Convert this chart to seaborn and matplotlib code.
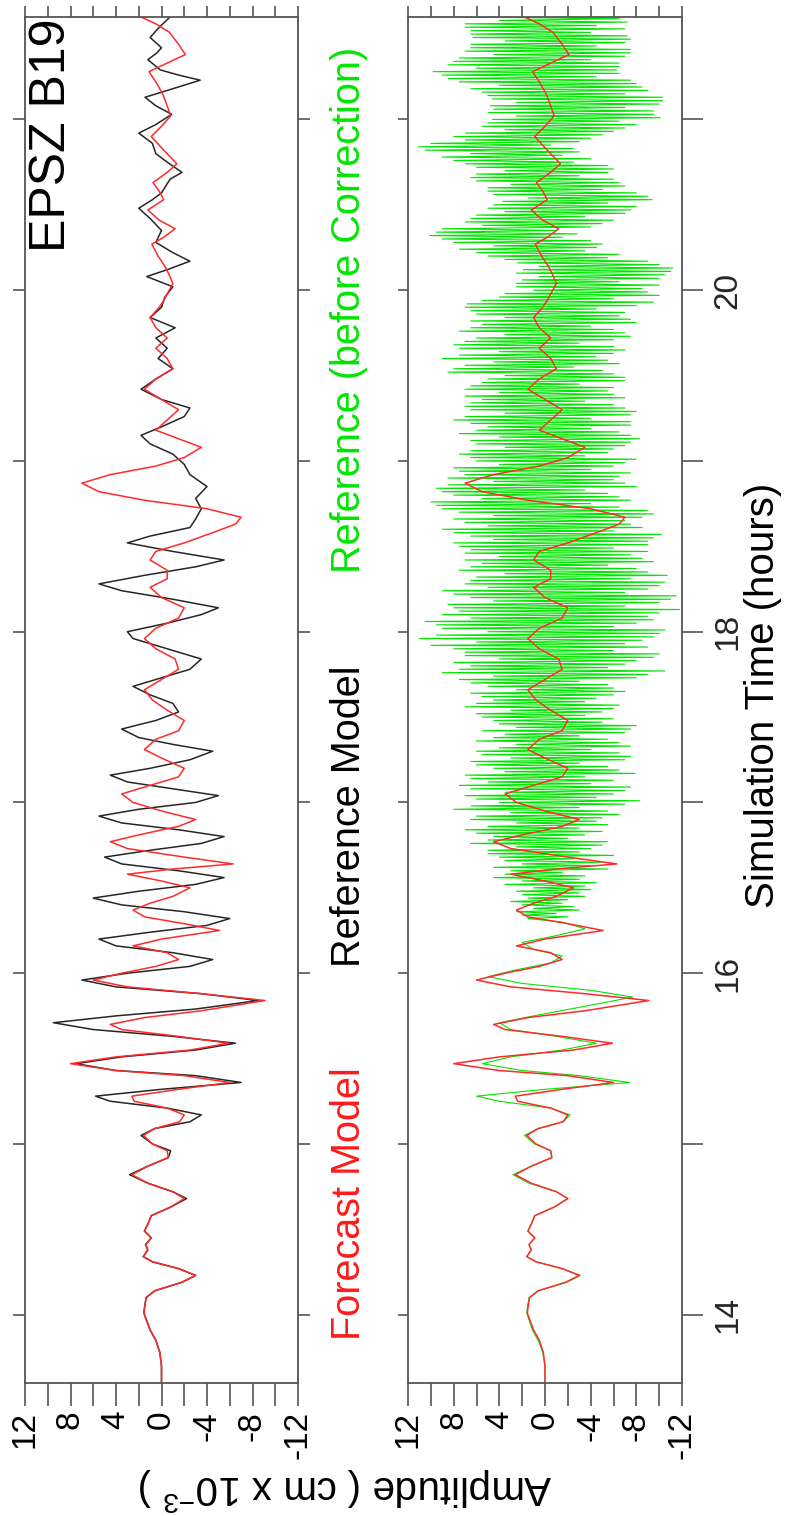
import numpy as np
import matplotlib
matplotlib.use('Agg')
import matplotlib.pyplot as plt
import seaborn as sns
import pandas as pd

# ---------------- data (time in hours, amplitude in cm x 1e-3) ----------------
# Forecast model (red)
fc_time = [13.60, 13.70, 13.78, 13.85, 13.91, 14.01, 14.06, 14.10, 14.14, 14.19, 14.23, 14.27,
           14.31, 14.34, 14.38, 14.41, 14.45, 14.49, 14.53, 14.58, 14.63, 14.68, 14.72, 14.77,
           14.82, 14.87, 14.92, 14.96, 15.00, 15.05, 15.09, 15.13, 15.17, 15.21, 15.25, 15.28,
           15.32, 15.36, 15.40, 15.43, 15.47, 15.51, 15.55, 15.59, 15.63, 15.67, 15.70, 15.74,
           15.78, 15.84, 15.88, 15.92, 15.96, 16.00, 16.04, 16.08, 16.12, 16.16, 16.20, 16.25,
           16.29, 16.33, 16.37, 16.41, 16.45, 16.50, 16.54, 16.58, 16.61, 16.64, 16.68, 16.73,
           16.77, 16.81, 16.86, 16.90, 16.95, 17.00, 17.05, 17.10, 17.15, 17.20, 17.26, 17.31,
           17.37, 17.42, 17.48, 17.54, 17.60, 17.66, 17.72, 17.78, 17.84, 17.90, 17.96, 18.02,
           18.08, 18.14, 18.20, 18.26, 18.31, 18.36, 18.42, 18.47, 18.52, 18.58, 18.63, 18.67,
           18.72, 18.77, 18.82, 18.87, 18.92, 18.97, 19.02, 19.08, 19.13, 19.18, 19.24, 19.30,
           19.36, 19.42, 19.48, 19.54, 19.60, 19.66, 19.72, 19.78, 19.84, 19.90, 19.94, 20.04,
           20.10, 20.14, 20.20, 20.27, 20.31, 20.36, 20.41, 20.47, 20.53, 20.58, 20.63, 20.69,
           20.74, 20.82, 20.90, 20.96, 21.02, 21.08, 21.15, 21.22, 21.28, 21.33, 21.38, 21.44,
           21.51, 21.56, 21.60]
fc_amp = [0.0, 0.0, 0.15, 0.5, 1.0, 1.55, 1.45, 1.35, 0.6, -1.8, -3.0, -1.5,
          0.8, 1.6, 1.2, 1.4, 0.9, 1.5, 1.2, 0.9, -0.8, -2.0, -1.0, 1.2,
          2.6, 1.2, -0.6, -0.5, 0.8, 1.6, 0.6, -1.6, -2.0, -0.5, 2.4, 2.6,
          -1.5, -6.0, -2.0, 4.0, 8.0, 4.0, -2.5, -5.9, -1.5, 3.5, 4.5, 1.5,
          -3.5, -9.1, -3.5, 3.0, 6.0, 3.5, 0.5, -1.5, -0.5, 2.5, 0.0, -5.1,
          -2.0, 1.5, 2.5, 1.0, -1.0, -2.5, 0.0, 3.0, -1.0, -6.3, -2.0, 3.0,
          4.5, 2.0, -1.5, -3.0, 0.0, 2.5, 3.5, 1.0, -1.5, -2.0, 0.0, 1.5,
          0.5, -1.5, -2.0, -0.5, 0.8, 1.5, 0.0, -1.5, -1.2, 0.5, 1.5, 0.5,
          -1.5, -2.0, 0.0, 1.0, -0.5, -0.5, 1.0, 0.5, -2.0, -4.5, -6.5, -7.0,
          -4.0, 1.5, 5.5, 7.0, 4.5, 0.5, -2.0, -3.5, -1.5, 0.5, -0.5, -1.5,
          0.0, 1.5, 0.5, -1.0, -0.5, 0.5, -0.5, 0.5, 1.0, 0.2, -0.2, -1.0,
          -0.6, -0.3, 0.3, 0.85, -0.2, -1.2, 0.2, 1.2, -0.2, 0.2, 0.75, -0.5,
          -1.35, -0.2, 0.9, 0.0, -0.8, -0.5, -0.1, 0.5, 1.1, -0.5, -2.1, -1.5,
          -0.7, 0.5, 1.8]

# Reference model (black)
ref_time = [13.60, 13.70, 13.78, 13.85, 13.91, 14.01, 14.06, 14.10, 14.14, 14.19, 14.23, 14.27,
            14.31, 14.34, 14.38, 14.41, 14.45, 14.49, 14.53, 14.58, 14.63, 14.68, 14.72, 14.77,
            14.82, 14.87, 14.92, 14.96, 15.00, 15.05, 15.09, 15.13, 15.17, 15.21, 15.25, 15.28,
            15.32, 15.36, 15.40, 15.43, 15.47, 15.51, 15.55, 15.59, 15.63, 15.67, 15.71, 15.75,
            15.79, 15.84, 15.88, 15.92, 15.96, 16.00, 16.04, 16.08, 16.12, 16.16, 16.20, 16.24,
            16.28, 16.32, 16.36, 16.40, 16.44, 16.48, 16.52, 16.56, 16.60, 16.64, 16.68, 16.72,
            16.76, 16.80, 16.84, 16.88, 16.92, 16.96, 17.00, 17.04, 17.08, 17.12, 17.16, 17.20,
            17.25, 17.30, 17.34, 17.38, 17.43, 17.48, 17.53, 17.58, 17.63, 17.68, 17.73, 17.78,
            17.84, 17.90, 17.96, 18.00, 18.05, 18.10, 18.14, 18.19, 18.24, 18.28, 18.33, 18.38,
            18.42, 18.47, 18.52, 18.56, 18.61, 18.66, 18.72, 18.78, 18.85, 18.92, 18.98, 19.04,
            19.10, 19.15, 19.20, 19.26, 19.31, 19.36, 19.42, 19.48, 19.54, 19.60, 19.66, 19.72,
            19.78, 19.84, 19.90, 19.96, 20.02, 20.08, 20.12, 20.17, 20.22, 20.28, 20.35, 20.42,
            20.48, 20.53, 20.57, 20.65, 20.69, 20.75, 20.80, 20.86, 20.92, 20.97, 21.03, 21.08,
            21.13, 21.18, 21.23, 21.26, 21.29, 21.35, 21.39, 21.42, 21.48, 21.54, 21.60]
ref_amp = [0.0, 0.0, 0.15, 0.5, 1.0, 1.55, 1.45, 1.35, 0.6, -1.8, -3.0, -1.5,
           0.8, 1.6, 1.2, 1.4, 0.9, 1.5, 1.2, 0.9, -0.8, -2.2, -1.0, 1.2,
           2.8, 1.2, -0.6, -0.8, 0.8, 1.8, 0.6, -2.5, -3.5, -0.5, 4.5, 5.8,
           0.0, -7.0, -3.0, 4.0, 7.5, 3.5, -3.0, -6.5, -1.0, 6.0, 9.5, 4.0,
           -3.0, -8.5, -3.5, 4.0, 7.0, 3.0, -2.5, -4.5, -1.0, 4.0, 5.5, 1.0,
           -4.0, -6.0, -2.0, 3.5, 6.0, 2.0, -3.0, -5.5, -1.5, 3.5, 5.0, 1.0,
           -3.5, -5.5, -1.5, 3.5, 5.5, 2.0, -3.0, -5.0, -1.0, 3.0, 4.5, 1.0,
           -2.5, -4.5, -1.0, 2.0, 3.5, 0.5, -1.5, -1.0, 1.0, 2.5, 0.0, -2.5,
           -3.5, -0.5, 2.5, 3.0, -0.5, -3.5, -5.0, -1.0, 3.5, 5.5, 1.5, -3.0,
           -5.5, -1.0, 3.0, 1.0, -2.5, -3.0, -3.5, -3.0, -4.0, -2.5, -2.0, -1.0,
           1.0, 1.8, 0.0, -2.0, -2.5, 0.0, 1.8, 0.5, -1.0, 0.3, -0.5, 0.5,
           -1.2, 1.0, 0.0, -0.3, -1.0, 1.3, -0.5, -2.5, -1.0, 0.5, 0.0, 1.0,
           2.0, 0.8, 0.0, -0.75, -1.8, -0.5, 0.5, 0.8, 2.0, 0.5, -0.9, 0.5,
           1.45, -1.0, -3.4, -1.5, 0.1, 1.2, 0.4, 0.0, 1.0, 0.2, -0.75]

# Reference before correction (green): smooth early part
bc_time = [13.60, 13.70, 13.78, 13.85, 13.91, 14.01, 14.06, 14.10, 14.14, 14.19, 14.23, 14.27,
           14.31, 14.34, 14.38, 14.41, 14.45, 14.49, 14.53, 14.58, 14.63, 14.68, 14.72, 14.77,
           14.82, 14.87, 14.92, 14.96, 15.00, 15.05, 15.09, 15.13, 15.17, 15.21, 15.25, 15.28,
           15.32, 15.36, 15.40, 15.43, 15.47, 15.51, 15.55, 15.59, 15.63, 15.67, 15.71, 15.75,
           15.80, 15.86, 15.90, 15.94, 15.98, 16.02, 16.06, 16.10, 16.14, 16.18, 16.22, 16.26,
           16.30]
bc_amp = [0.0, 0.0, 0.2, 0.6, 1.1, 1.6, 1.5, 1.4, 0.6, -1.9, -3.1, -1.5,
          0.8, 1.6, 1.2, 1.4, 0.9, 1.5, 1.2, 0.9, -0.8, -2.0, -1.0, 1.4,
          2.8, 1.2, -0.6, -0.5, 0.9, 1.8, 0.6, -1.6, -2.2, -0.5, 4.0, 6.0,
          0.0, -7.4, -3.0, 2.0, 5.5, 3.0, -1.5, -4.5, -1.0, 3.0, 4.0, 1.0,
          -3.0, -7.7, -4.0, 2.0, 5.0, 2.5, -0.5, -1.5, 1.0, 2.0, -1.0, -3.5,
          -1.5]
# Reference before correction (green): fast oscillation, extremes every bcn_step hours
bcn_start = 16.32
bcn_step = 0.01
bcn_vals = [
    1.5, -2.0, 2.0, -1.0, 2.5, -3.0, 1.0, -2.5, 2.0, -1.5, 3.0, -2.0, 1.5, -3.5, 2.0, -3.0, 2.5, -4.0, 1.0, -3.5,
    3.5, -4.5, 2.0, -3.0, 4.5, -3.5, 3.5, -1.5, 3.0, -5.5, 4.5, -4.0, 2.0, -5.0, 3.5, -2.5, 4.0, -6.0, 5.0, -3.0,
    5.0, -4.0, 2.5, -5.0, 6.5, -5.5, 5.0, -2.0, 4.5, -3.5, 6.0, -5.0, 7.0, -3.0, 5.0, -5.5, 2.5, -4.5, 6.5, -5.0,
    6.0, -6.5, 3.0, -5.5, 8.0, -3.0, 6.5, -7.0, 4.0, -8.3, 6.0, -4.5, 7.0, -6.0, 3.5, -7.0, 6.5, -7.5, 7.5, -4.0,
    5.0, -6.0, 6.5, -3.5, 7.0, -7.9, 3.5, -6.5, 4.5, -5.5, 6.0, -3.0, 6.5, -7.0, 3.0, -7.5, 5.5, -6.5, 6.0, -4.0,
    4.0, -7.5, 2.5, -6.5, 6.0, -5.5, 4.5, -3.0, 3.5, -7.0, 5.5, -7.5, 2.5, -8.0, 4.0, -5.0, 4.5, -6.0, 5.5, -3.5,
    6.0, -5.0, 3.0, -6.0, 7.0, -6.5, 6.0, -3.5, 4.5, -4.5, 5.5, -6.0, 6.5, -7.0, 2.5, -6.0, 5.0, -5.5, 6.5, -3.0,
    7.5, -8.0, 4.5, -9.0, 9.0, -10.5, 7.5, -5.5, 6.5, -7.0, 8.0, -8.0, 4.0, -9.5, 7.0, -10.0, 7.0, -6.0, 8.0, -9.0,
    10.0, -7.0, 6.0, -8.5, 11.0, -9.5, 9.5, -10.0, 5.0, -10.5, 9.0, -6.0, 9.5, -8.0, 10.5, -9.5, 6.5, -9.0, 9.0, -10.0,
    7.5, -11.8, 8.0, -7.0, 8.5, -10.0, 4.5, -11.0, 6.5, -11.5, 8.0, -7.0, 9.0, -9.0, 5.0, -10.0, 7.0, -10.5, 6.5, -7.5,
    6.0, -10.7, 3.5, -9.0, 7.5, -8.0, 6.5, -5.5, 5.5, -9.5, 7.0, -8.5, 4.0, -7.5, 7.0, -9.0, 6.5, -6.0, 7.5, -9.0,
    8.0, -9.0, 4.5, -9.5, 6.5, -10.2, 8.0, -6.0, 9.0, -8.5, 5.0, -7.5, 7.0, -7.0, 8.0, -8.5, 4.5, -9.5, 7.5, -9.0,
    9.0, -6.5, 9.5, -4.0, 10.0, -7.5, 5.5, -6.5, 8.0, -5.5, 9.0, -3.5, 9.5, -8.0, 8.5, -7.0, 4.5, -6.0, 8.5, -6.5,
    7.0, -7.5, 7.5, -4.0, 8.0, -6.0, 4.0, -7.0, 6.0, -8.0, 6.5, -3.5, 7.5, -5.5, 6.5, -6.0, 3.5, -7.0, 6.0, -7.5,
    6.5, -8.3, 4.0, -7.5, 7.5, -6.5, 6.0, -4.0, 5.0, -7.5, 6.5, -7.5, 8.0, -4.0, 7.0, -7.5, 3.5, -8.0, 6.5, -7.0,
    7.0, -6.0, 6.5, -3.5, 5.5, -7.0, 7.0, -6.0, 4.0, -5.5, 7.0, -6.0, 6.5, -3.0, 5.5, -7.0, 5.0, -7.0, 3.5, -6.0,
    8.5, -5.0, 8.0, -2.5, 7.0, -6.5, 4.5, -5.5, 9.0, -4.5, 7.5, -6.0, 4.0, -7.0, 7.5, -6.0, 8.0, -3.0, 7.0, -6.0,
    6.0, -7.5, 3.5, -7.0, 7.5, -6.0, 6.5, -4.0, 5.5, -8.0, 6.5, -7.5, 3.5, -6.5, 6.0, -7.0, 6.5, -4.5, 7.0, -8.0,
    6.8, -9.5, 5.5, -6.0, 4.0, -10.0, 3.5, -9.0, 1.0, -8.5, 2.5, -10.0, 2.5, -6.5, 2.0, -10.0, 0.5, -10.5, 2.5, -11.0,
    1.9, -11.2, 0.5, -10.0, 2.4, -9.0, 3.5, -5.5, 5.0, -6.5, 6.0, -3.5, 7.5, -4.5, 4.5, -5.0, 8.0, -4.0, 9.0, -1.5,
    10.1, -2.8, 9.5, -1.0, 9.0, -4.0, 5.5, -5.0, 7.0, -6.0, 6.5, -3.5, 6.0, -7.0, 3.5, -7.5, 5.0, -8.0, 4.5, -5.5,
    3.7, -9.4, 1.5, -9.0, 4.5, -8.0, 5.0, -5.0, 5.0, -7.0, 3.0, -6.5, 6.0, -6.0, 6.5, -3.0, 6.0, -5.5, 3.5, -6.0,
    6.0, -5.5, 7.0, -2.5, 8.0, -4.0, 9.0, -1.5, 6.5, -3.0, 10.5, -2.5, 11.1, -0.5, 10.0, -3.0, 7.0, -4.0, 8.0, -5.0,
    7.0, -6.0, 3.5, -7.0, 5.5, -8.0, 5.0, -6.5, 4.6, -10.1, 2.5, -9.5, 5.0, -9.5, 4.5, -7.0, 4.8, -10.0, 2.5, -10.3,
    4.6, -10.3, 5.0, -7.0, 5.5, -9.0, 6.5, -8.5, 4.0, -8.0, 7.5, -7.5, 8.5, -4.5, 9.0, -6.5, 9.8, -6.3, 6.0, -6.5,
    8.5, -6.5, 8.0, -4.0, 7.5, -7.0, 4.5, -7.5, 7.0, -7.5, 6.5, -4.5, 6.5, -7.0, 3.5, -7.5, 6.3, -7.2, 6.5, -4.0,
    6.5, -7.0, 7.0, -4.5, 7.0, -7.2, 4.0, -6.5, 7.2, -6.5, 6.8, -3.5, 6.8, -7.2, 4.0, -6.8, 7.0, -6.8, 6.5, -7.0]

# ---------------- style ----------------
sns.set_theme(style='white')
plt.rcParams['font.family'] = ['Liberation Sans', 'DejaVu Sans']
plt.rcParams['mathtext.fontset'] = 'custom'
plt.rcParams['mathtext.rm'] = 'Liberation Sans'
plt.rcParams['mathtext.it'] = 'Liberation Sans:italic'

W, H = 786, 1516
fig = plt.figure(figsize=(W / 100, H / 100), dpi=100)
fig.patch.set_facecolor('white')


def px_rect(x0, y0, x1, y1):
    return [x0 / W, 1 - y1 / H, (x1 - x0) / W, (y1 - y0) / H]


ax1 = fig.add_axes(px_rect(25, 17, 298, 1383))
ax2 = fig.add_axes(px_rect(408, 17, 682, 1383))

RED = '#ff2a2a'
BLK = '#262626'
GRN = '#00e600'
TICKC = '#555555'

g_time = list(bc_time) + [round(bcn_start + i * bcn_step, 3) for i in range(len(bcn_vals))]
g_amp = list(bc_amp) + list(bcn_vals)

df_fc = pd.DataFrame({'time': fc_time, 'amp': fc_amp})
df_ref = pd.DataFrame({'time': ref_time, 'amp': ref_amp})
df_bc = pd.DataFrame({'time': g_time, 'amp': g_amp})

sns.lineplot(data=df_ref, x='amp', y='time', orient='y', sort=False, estimator=None,
             color=BLK, lw=1.1, ax=ax1)
sns.lineplot(data=df_fc, x='amp', y='time', orient='y', sort=False, estimator=None,
             color=RED, lw=1.1, ax=ax1)
sns.lineplot(data=df_bc, x='amp', y='time', orient='y', sort=False, estimator=None,
             color=GRN, lw=0.8, ax=ax2)
sns.lineplot(data=df_fc, x='amp', y='time', orient='y', sort=False, estimator=None,
             color=RED, lw=1.1, ax=ax2)

amp_ticks = list(range(-12, 13, 2))
amp_labels = [str(v) if v % 4 == 0 else '' for v in amp_ticks]
time_ticks = list(range(14, 22))

for i, ax in enumerate([ax1, ax2]):
    ax.set_xlim(12, -12)
    ax.set_ylim(13.6, 21.6)
    ax.set_xlabel('')
    ax.set_ylabel('')
    for s in ax.spines.values():
        s.set_color(TICKC)
        s.set_linewidth(1.3)
    ax.set_xticks(amp_ticks)
    ax.set_xticklabels(amp_labels)
    ax.tick_params(axis='x', which='major', direction='out', length=16.5, width=1.2,
                   color=TICKC, labelsize=24, labelrotation=90, pad=3.5,
                   bottom=True, top=False, labelcolor='black')
    sec = ax.secondary_xaxis('top')
    sec.set_xticks(amp_ticks)
    sec.set_xticklabels([])
    sec.tick_params(direction='out', length=8, width=1.2, color=TICKC)
    sec.spines['top'].set_visible(False)
    ax.set_yticks(time_ticks)
    if i == 0:
        ax.set_yticklabels([])
        ax.tick_params(axis='y', direction='out', length=8.6, width=1.2, color=TICKC,
                       left=True, right=True, labelleft=False, labelright=False)
    else:
        ax.yaxis.tick_right()
        ax.set_yticklabels([str(v) if v % 2 == 0 else '' for v in time_ticks])
        ax.tick_params(axis='y', direction='out', length=15, width=1.2, color=TICKC,
                       labelsize=24, labelrotation=90, pad=7, right=True, left=False)
        secy = ax.secondary_yaxis('left')
        secy.set_yticks(time_ticks)
        secy.set_yticklabels([])
        secy.tick_params(direction='out', length=7, width=1.2, color=TICKC)
        secy.spines['left'].set_visible(False)
        for lab in ax.get_yticklabels():
            lab.set_va('center')

# ---------------- texts ----------------
def ftext(x, y, s, **kw):
    return fig.text(x / W, 1 - y / H, s, **kw)

ftext(52, 252, 'EPSZ B19', rotation=90, rotation_mode='anchor', ha='left', va='center',
      fontsize=36, color='black')
ftext(349, 1340, 'Forecast Model', rotation=90, rotation_mode='anchor', ha='left',
      va='center', fontsize=28.5, color='#ff1a1a')
ftext(349, 967, 'Reference Model', rotation=90, rotation_mode='anchor', ha='left',
      va='center', fontsize=28.5, color='black')
ftext(349, 47, 'Reference (before Correction)', rotation=90, rotation_mode='anchor', ha='right',
      va='center', fontsize=28.5, color='#00e600')
ftext(763, 908, 'Simulation Time (hours)', rotation=90, rotation_mode='anchor', ha='left',
      va='center', fontsize=29, color='black')
ftext(345, 1490, r'Amplitude ( cm x 10$^{\mathregular{-3}}$ )', rotation=180, ha='center',
      va='center', fontsize=29, color='black')

fig.savefig('out.png', dpi=100, facecolor='white')
